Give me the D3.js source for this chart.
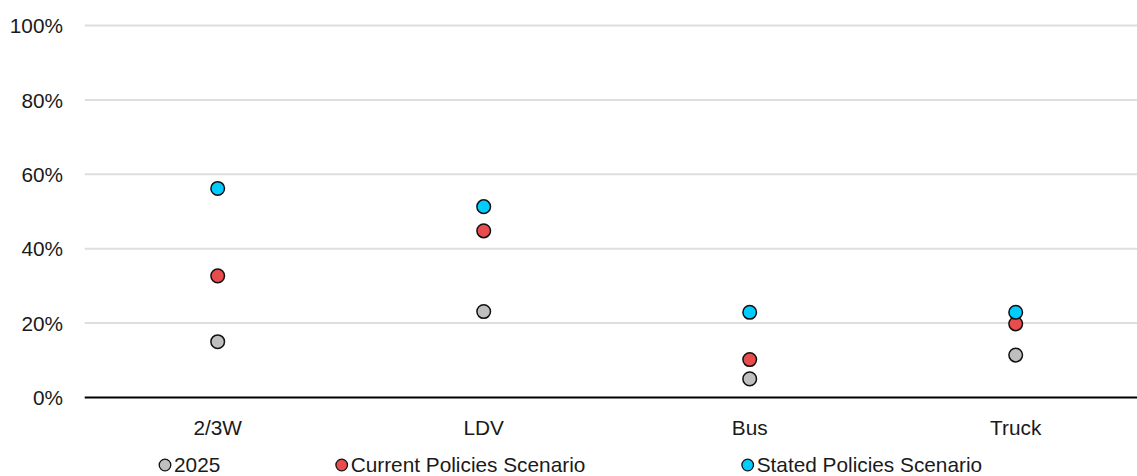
<!DOCTYPE html>
<html>
<head>
<meta charset="utf-8">
<script src="https://cdn.jsdelivr.net/npm/d3@7"></script>
<style>
  html, body { margin: 0; padding: 0; background: #fff; }
  svg { display: block; font-family: Arial, "Liberation Sans", sans-serif; }
</style>
</head>
<body>
<svg id="chart" width="1137" height="476"></svg>
<script>
const categories = ["2/3W", "LDV", "Bus", "Truck"];
const seriesNames = ["2025", "Current Policies Scenario", "Stated Policies Scenario"];
const values2025 = [15.0, 23.1, 5.0, 11.4];
const valuesCPS = [32.7, 44.8, 10.2, 19.8];
const valuesSPS = [56.2, 51.3, 22.9, 22.9];
const yTicks = [0, 20, 40, 60, 80, 100];
const seriesColors = ["#bfbfbf", "#e84c4c", "#00ccff"];

const series = [values2025, valuesCPS, valuesSPS];

const svg = d3.select("#chart");
const W = 1137, H = 476;
const margin = { left: 84.7, right: -11.7, top: 25.5, bottom: 78.5 };
const plotRight = W - margin.right;
const y0 = H - margin.bottom;
const FS = 20.8;

const x = d3.scaleBand().domain(categories).range([margin.left, plotRight]).padding(0);
const y = d3.scaleLinear().domain([0, 100]).range([y0, margin.top]);

// gridlines
svg.append("g").selectAll("line").data(yTicks.filter(d => d > 0)).join("line")
  .attr("x1", margin.left).attr("x2", W)
  .attr("y1", d => y(d)).attr("y2", d => y(d))
  .attr("stroke", "#dedede").attr("stroke-width", 2);

// y axis labels
const yAxis = d3.axisLeft(y).tickValues(yTicks).tickFormat(d => d + "%").tickSize(0).tickPadding(0);
const yg = svg.append("g").attr("transform", `translate(63,0)`).call(yAxis);
yg.select(".domain").remove();
yg.selectAll("text").attr("font-size", FS).attr("fill", "#1a1a1a")
  .attr("font-family", "Arial, 'Liberation Sans', sans-serif").attr("dy", "0.35em");

// zero line
svg.append("line").attr("x1", margin.left).attr("x2", W)
  .attr("y1", y(0)).attr("y2", y(0)).attr("stroke", "#000").attr("stroke-width", 2);

// x axis labels
const xAxis = d3.axisBottom(x).tickSize(0).tickPadding(0);
const xg = svg.append("g").attr("transform", `translate(0,${y0})`).call(xAxis);
xg.select(".domain").remove();
xg.selectAll("text").attr("font-size", FS).attr("fill", "#1a1a1a")
  .attr("font-family", "Arial, 'Liberation Sans', sans-serif").attr("dy", null).attr("y", 37.5);

// points
series.forEach((vals, si) => {
  svg.append("g").selectAll("circle").data(vals).join("circle")
    .attr("cx", (d, i) => x(categories[i]) + x.bandwidth() / 2)
    .attr("cy", d => y(d))
    .attr("r", 6.8)
    .attr("fill", seriesColors[si])
    .attr("stroke", "#111").attr("stroke-width", 1.5);
});

// legend
const legendX = [165, 341.7, 747.7];
const legendY = 465;
const lg = svg.append("g");
seriesNames.forEach((name, i) => {
  lg.append("circle").attr("cx", legendX[i]).attr("cy", legendY).attr("r", 5.8)
    .attr("fill", seriesColors[i]).attr("stroke", "#111").attr("stroke-width", 1.3);
  lg.append("text").attr("x", legendX[i] + 9).attr("y", legendY).attr("dy", "0.35em")
    .attr("font-size", FS).attr("fill", "#1a1a1a").text(name);
});
</script>
</body>
</html>
